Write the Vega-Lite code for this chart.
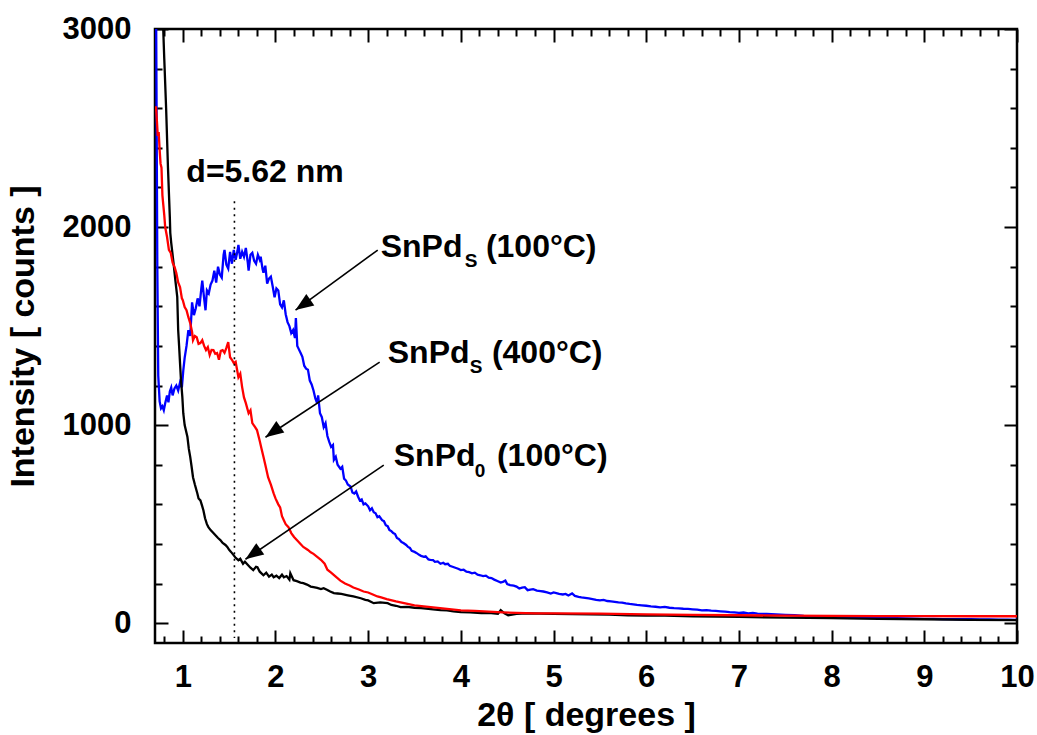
{
"$schema": "https://vega.github.io/schema/vega-lite/v6.json",
"autosize": "none",
"width": 862,
"height": 614,
"padding": {"left": 155, "top": 29, "right": 20, "bottom": 92},
"background": "white",
"config": {
  "view": {"stroke": "black", "strokeWidth": 2.5},
  "font": "Liberation Sans",
  "axis": {"labelFont": "Liberation Sans", "labelFontWeight": "bold", "labelFontSize": 31, "labelColor": "black", "titleFont": "Liberation Sans", "titleFontWeight": "bold", "titleFontSize": 34, "titleColor": "black", "domain": false, "grid": false, "tickColor": "black", "tickWidth": 2}
},
"datasets": {
  "curves": [
{"s":"b","x":0.71,"y":3300},{"s":"b","x":0.725,"y":1800},{"s":"b","x":0.735,"y":1250},{"s":"b","x":0.75,"y":1120},{"s":"b","x":0.765,"y":1085},{"s":"b","x":0.78,"y":1095},{"s":"b","x":0.795,"y":1075},{"s":"b","x":0.81,"y":1110},{"s":"b","x":0.83,"y":1150},{"s":"b","x":0.845,"y":1115},{"s":"b","x":0.86,"y":1170},{"s":"b","x":0.875,"y":1190},{"s":"b","x":0.89,"y":1150},{"s":"b","x":0.91,"y":1185},{"s":"b","x":0.93,"y":1200},{"s":"b","x":0.95,"y":1175},{"s":"b","x":0.97,"y":1215},{"s":"b","x":0.99,"y":1190},{"s":"b","x":1.005,"y":1275},{"s":"b","x":1.02,"y":1340},{"s":"b","x":1.04,"y":1400},{"s":"b","x":1.06,"y":1480},{"s":"b","x":1.08,"y":1450},{"s":"b","x":1.1,"y":1620},{"s":"b","x":1.12,"y":1555},{"s":"b","x":1.14,"y":1590},{"s":"b","x":1.16,"y":1640},{"s":"b","x":1.18,"y":1600},{"s":"b","x":1.2,"y":1690},{"s":"b","x":1.21,"y":1730},{"s":"b","x":1.23,"y":1640},{"s":"b","x":1.245,"y":1580},{"s":"b","x":1.26,"y":1680},{"s":"b","x":1.28,"y":1665},{"s":"b","x":1.3,"y":1710},{"s":"b","x":1.32,"y":1730},{"s":"b","x":1.34,"y":1780},{"s":"b","x":1.36,"y":1720},{"s":"b","x":1.38,"y":1800},{"s":"b","x":1.4,"y":1760},{"s":"b","x":1.42,"y":1745},{"s":"b","x":1.44,"y":1860},{"s":"b","x":1.45,"y":1885},{"s":"b","x":1.47,"y":1810},{"s":"b","x":1.49,"y":1790},{"s":"b","x":1.51,"y":1875},{"s":"b","x":1.53,"y":1815},{"s":"b","x":1.55,"y":1885},{"s":"b","x":1.57,"y":1835},{"s":"b","x":1.59,"y":1880},{"s":"b","x":1.6,"y":1910},{"s":"b","x":1.62,"y":1840},{"s":"b","x":1.64,"y":1875},{"s":"b","x":1.66,"y":1850},{"s":"b","x":1.68,"y":1895},{"s":"b","x":1.7,"y":1825},{"s":"b","x":1.71,"y":1780},{"s":"b","x":1.73,"y":1860},{"s":"b","x":1.75,"y":1870},{"s":"b","x":1.77,"y":1830},{"s":"b","x":1.79,"y":1815},{"s":"b","x":1.81,"y":1860},{"s":"b","x":1.83,"y":1835},{"s":"b","x":1.84,"y":1850},{"s":"b","x":1.86,"y":1790},{"s":"b","x":1.87,"y":1770},{"s":"b","x":1.89,"y":1805},{"s":"b","x":1.91,"y":1715},{"s":"b","x":1.93,"y":1740},{"s":"b","x":1.95,"y":1750},{"s":"b","x":1.97,"y":1700},{"s":"b","x":1.99,"y":1645},{"s":"b","x":2.01,"y":1690},{"s":"b","x":2.03,"y":1680},{"s":"b","x":2.05,"y":1610},{"s":"b","x":2.07,"y":1595},{"s":"b","x":2.09,"y":1630},{"s":"b","x":2.11,"y":1560},{"s":"b","x":2.13,"y":1520},{"s":"b","x":2.15,"y":1500},{"s":"b","x":2.17,"y":1465},{"s":"b","x":2.19,"y":1480},{"s":"b","x":2.21,"y":1440},{"s":"b","x":2.22,"y":1540},{"s":"b","x":2.235,"y":1400},{"s":"b","x":2.25,"y":1385},{"s":"b","x":2.27,"y":1365},{"s":"b","x":2.29,"y":1345},{"s":"b","x":2.31,"y":1300},{"s":"b","x":2.33,"y":1285},{"s":"b","x":2.35,"y":1280},{"s":"b","x":2.37,"y":1225},{"s":"b","x":2.39,"y":1205},{"s":"b","x":2.41,"y":1175},{"s":"b","x":2.43,"y":1135},{"s":"b","x":2.45,"y":1110},{"s":"b","x":2.46,"y":1150},{"s":"b","x":2.48,"y":1060},{"s":"b","x":2.5,"y":1040},{"s":"b","x":2.52,"y":990},{"s":"b","x":2.54,"y":1010},{"s":"b","x":2.56,"y":945},{"s":"b","x":2.58,"y":915},{"s":"b","x":2.6,"y":890},{"s":"b","x":2.62,"y":900},{"s":"b","x":2.63,"y":825},{"s":"b","x":2.65,"y":840},{"s":"b","x":2.67,"y":800},{"s":"b","x":2.7,"y":780},{"s":"b","x":2.72,"y":790},{"s":"b","x":2.74,"y":730},{"s":"b","x":2.76,"y":720},{"s":"b","x":2.78,"y":700},{"s":"b","x":2.81,"y":690},{"s":"b","x":2.83,"y":660},{"s":"b","x":2.85,"y":655},{"s":"b","x":2.87,"y":665},{"s":"b","x":2.89,"y":640},{"s":"b","x":2.91,"y":620},{"s":"b","x":2.93,"y":625},{"s":"b","x":2.95,"y":600},{"s":"b","x":2.97,"y":605},{"s":"b","x":3.0,"y":590},{"s":"b","x":3.02,"y":570},{"s":"b","x":3.04,"y":580},{"s":"b","x":3.06,"y":560},{"s":"b","x":3.08,"y":555},{"s":"b","x":3.1,"y":535},{"s":"b","x":3.12,"y":540},{"s":"b","x":3.15,"y":520},{"s":"b","x":3.17,"y":515},{"s":"b","x":3.19,"y":495},{"s":"b","x":3.21,"y":490},{"s":"b","x":3.23,"y":470},{"s":"b","x":3.25,"y":465},{"s":"b","x":3.27,"y":455},{"s":"b","x":3.29,"y":450},{"s":"b","x":3.31,"y":430},{"s":"b","x":3.33,"y":425},{"s":"b","x":3.36,"y":410},{"s":"b","x":3.38,"y":405},{"s":"b","x":3.41,"y":395},{"s":"b","x":3.43,"y":385},{"s":"b","x":3.45,"y":380},{"s":"b","x":3.47,"y":365},{"s":"b","x":3.5,"y":360},{"s":"b","x":3.52,"y":355},{"s":"b","x":3.55,"y":345},{"s":"b","x":3.57,"y":340},{"s":"b","x":3.6,"y":335},{"s":"b","x":3.62,"y":338},{"s":"b","x":3.65,"y":322},{"s":"b","x":3.67,"y":320},{"s":"b","x":3.7,"y":318},{"s":"b","x":3.72,"y":310},{"s":"b","x":3.75,"y":312},{"s":"b","x":3.78,"y":300},{"s":"b","x":3.81,"y":305},{"s":"b","x":3.83,"y":298},{"s":"b","x":3.86,"y":300},{"s":"b","x":3.88,"y":290},{"s":"b","x":3.91,"y":285},{"s":"b","x":3.94,"y":280},{"s":"b","x":3.97,"y":275},{"s":"b","x":4.0,"y":268},{"s":"b","x":4.03,"y":270},{"s":"b","x":4.06,"y":260},{"s":"b","x":4.09,"y":258},{"s":"b","x":4.12,"y":252},{"s":"b","x":4.15,"y":255},{"s":"b","x":4.18,"y":245},{"s":"b","x":4.21,"y":242},{"s":"b","x":4.24,"y":238},{"s":"b","x":4.27,"y":240},{"s":"b","x":4.3,"y":230},{"s":"b","x":4.33,"y":228},{"s":"b","x":4.36,"y":220},{"s":"b","x":4.4,"y":212},{"s":"b","x":4.43,"y":205},{"s":"b","x":4.46,"y":210},{"s":"b","x":4.48,"y":215},{"s":"b","x":4.5,"y":198},{"s":"b","x":4.53,"y":192},{"s":"b","x":4.57,"y":190},{"s":"b","x":4.6,"y":185},{"s":"b","x":4.63,"y":175},{"s":"b","x":4.66,"y":180},{"s":"b","x":4.69,"y":182},{"s":"b","x":4.72,"y":167},{"s":"b","x":4.75,"y":170},{"s":"b","x":4.78,"y":172},{"s":"b","x":4.82,"y":165},{"s":"b","x":4.86,"y":162},{"s":"b","x":4.89,"y":160},{"s":"b","x":4.93,"y":156},{"s":"b","x":4.97,"y":150},{"s":"b","x":5.0,"y":155},{"s":"b","x":5.03,"y":152},{"s":"b","x":5.06,"y":148},{"s":"b","x":5.1,"y":145},{"s":"b","x":5.13,"y":148},{"s":"b","x":5.16,"y":140},{"s":"b","x":5.2,"y":150},{"s":"b","x":5.23,"y":138},{"s":"b","x":5.27,"y":133},{"s":"b","x":5.3,"y":130},{"s":"b","x":5.34,"y":128},{"s":"b","x":5.38,"y":125},{"s":"b","x":5.42,"y":122},{"s":"b","x":5.46,"y":118},{"s":"b","x":5.5,"y":115},{"s":"b","x":5.54,"y":118},{"s":"b","x":5.58,"y":112},{"s":"b","x":5.62,"y":110},{"s":"b","x":5.66,"y":108},{"s":"b","x":5.7,"y":105},{"s":"b","x":5.74,"y":104},{"s":"b","x":5.78,"y":100},{"s":"b","x":5.82,"y":97},{"s":"b","x":5.86,"y":95},{"s":"b","x":5.9,"y":92},{"s":"b","x":5.95,"y":90},{"s":"b","x":6.0,"y":88},{"s":"b","x":6.05,"y":85},{"s":"b","x":6.1,"y":83},{"s":"b","x":6.15,"y":80},{"s":"b","x":6.2,"y":82},{"s":"b","x":6.25,"y":78},{"s":"b","x":6.3,"y":76},{"s":"b","x":6.35,"y":75},{"s":"b","x":6.4,"y":73},{"s":"b","x":6.45,"y":72},{"s":"b","x":6.5,"y":70},{"s":"b","x":6.55,"y":68},{"s":"b","x":6.6,"y":65},{"s":"b","x":6.65,"y":66},{"s":"b","x":6.7,"y":63},{"s":"b","x":6.75,"y":62},{"s":"b","x":6.8,"y":60},{"s":"b","x":6.85,"y":58},{"s":"b","x":6.9,"y":56},{"s":"b","x":6.95,"y":55},{"s":"b","x":7.0,"y":52},{"s":"b","x":7.05,"y":54},{"s":"b","x":7.1,"y":50},{"s":"b","x":7.15,"y":52},{"s":"b","x":7.2,"y":48},{"s":"b","x":7.3,"y":47},{"s":"b","x":7.4,"y":45},{"s":"b","x":7.5,"y":42},{"s":"b","x":7.6,"y":40},{"s":"b","x":7.7,"y":37},{"s":"b","x":7.8,"y":36},{"s":"b","x":7.9,"y":33},{"s":"b","x":8.0,"y":31},{"s":"b","x":8.1,"y":30},{"s":"b","x":8.2,"y":29},{"s":"b","x":8.3,"y":28},{"s":"b","x":8.4,"y":27},{"s":"b","x":8.5,"y":27},{"s":"b","x":8.6,"y":25},{"s":"b","x":8.7,"y":25},{"s":"b","x":8.8,"y":24},{"s":"b","x":8.9,"y":23},{"s":"b","x":9.0,"y":22},{"s":"b","x":9.1,"y":22},{"s":"b","x":9.2,"y":21},{"s":"b","x":9.3,"y":21},{"s":"b","x":9.4,"y":20},{"s":"b","x":9.5,"y":20},{"s":"b","x":9.6,"y":19},{"s":"b","x":9.7,"y":19},{"s":"b","x":9.8,"y":18},{"s":"b","x":9.9,"y":18},{"s":"b","x":10.0,"y":17},
{"s":"k","x":0.785,"y":3050},{"s":"k","x":0.8,"y":2850},{"s":"k","x":0.82,"y":2600},{"s":"k","x":0.84,"y":2300},{"s":"k","x":0.86,"y":2050},{"s":"k","x":0.865,"y":1970},{"s":"k","x":0.875,"y":1920},{"s":"k","x":0.9,"y":1818},{"s":"k","x":0.92,"y":1730},{"s":"k","x":0.94,"y":1648},{"s":"k","x":0.95,"y":1480},{"s":"k","x":0.96,"y":1400},{"s":"k","x":0.97,"y":1313},{"s":"k","x":0.98,"y":1230},{"s":"k","x":0.995,"y":1141},{"s":"k","x":1.005,"y":1060},{"s":"k","x":1.02,"y":1000},{"s":"k","x":1.05,"y":940},{"s":"k","x":1.065,"y":880},{"s":"k","x":1.08,"y":840},{"s":"k","x":1.095,"y":790},{"s":"k","x":1.11,"y":737},{"s":"k","x":1.13,"y":700},{"s":"k","x":1.157,"y":655},{"s":"k","x":1.17,"y":630},{"s":"k","x":1.19,"y":620},{"s":"k","x":1.21,"y":590},{"s":"k","x":1.222,"y":570},{"s":"k","x":1.24,"y":530},{"s":"k","x":1.26,"y":500},{"s":"k","x":1.276,"y":485},{"s":"k","x":1.3,"y":470},{"s":"k","x":1.33,"y":455},{"s":"k","x":1.36,"y":440},{"s":"k","x":1.38,"y":430},{"s":"k","x":1.405,"y":420},{"s":"k","x":1.43,"y":405},{"s":"k","x":1.46,"y":395},{"s":"k","x":1.48,"y":385},{"s":"k","x":1.5,"y":370},{"s":"k","x":1.52,"y":360},{"s":"k","x":1.546,"y":345},{"s":"k","x":1.57,"y":330},{"s":"k","x":1.6,"y":318},{"s":"k","x":1.62,"y":325},{"s":"k","x":1.65,"y":300},{"s":"k","x":1.67,"y":310},{"s":"k","x":1.7,"y":295},{"s":"k","x":1.73,"y":280},{"s":"k","x":1.76,"y":268},{"s":"k","x":1.79,"y":285},{"s":"k","x":1.805,"y":283},{"s":"k","x":1.83,"y":260},{"s":"k","x":1.87,"y":242},{"s":"k","x":1.9,"y":255},{"s":"k","x":1.93,"y":235},{"s":"k","x":1.96,"y":245},{"s":"k","x":1.98,"y":232},{"s":"k","x":2.01,"y":240},{"s":"k","x":2.04,"y":228},{"s":"k","x":2.07,"y":245},{"s":"k","x":2.09,"y":232},{"s":"k","x":2.12,"y":238},{"s":"k","x":2.15,"y":220},{"s":"k","x":2.16,"y":252},{"s":"k","x":2.195,"y":217},{"s":"k","x":2.23,"y":212},{"s":"k","x":2.27,"y":205},{"s":"k","x":2.3,"y":202},{"s":"k","x":2.34,"y":195},{"s":"k","x":2.38,"y":185},{"s":"k","x":2.41,"y":182},{"s":"k","x":2.45,"y":178},{"s":"k","x":2.49,"y":172},{"s":"k","x":2.52,"y":177},{"s":"k","x":2.56,"y":168},{"s":"k","x":2.59,"y":160},{"s":"k","x":2.63,"y":152},{"s":"k","x":2.67,"y":150},{"s":"k","x":2.71,"y":148},{"s":"k","x":2.78,"y":141},{"s":"k","x":2.84,"y":135},{"s":"k","x":2.92,"y":126},{"s":"k","x":2.97,"y":118},{"s":"k","x":3.0,"y":115},{"s":"k","x":3.06,"y":101},{"s":"k","x":3.13,"y":105},{"s":"k","x":3.21,"y":101},{"s":"k","x":3.25,"y":92},{"s":"k","x":3.3,"y":88},{"s":"k","x":3.35,"y":81},{"s":"k","x":3.42,"y":82},{"s":"k","x":3.5,"y":78},{"s":"k","x":3.57,"y":76},{"s":"k","x":3.65,"y":73},{"s":"k","x":3.7,"y":70},{"s":"k","x":3.78,"y":66},{"s":"k","x":3.85,"y":65},{"s":"k","x":3.92,"y":60},{"s":"k","x":4.0,"y":56},{"s":"k","x":4.1,"y":55},{"s":"k","x":4.22,"y":51},{"s":"k","x":4.3,"y":52},{"s":"k","x":4.4,"y":48},{"s":"k","x":4.43,"y":66},{"s":"k","x":4.47,"y":50},{"s":"k","x":4.51,"y":40},{"s":"k","x":4.6,"y":47},{"s":"k","x":4.72,"y":50},{"s":"k","x":4.85,"y":48},{"s":"k","x":5.0,"y":47},{"s":"k","x":5.2,"y":46},{"s":"k","x":5.4,"y":45},{"s":"k","x":5.6,"y":44},{"s":"k","x":5.8,"y":40},{"s":"k","x":6.0,"y":38},{"s":"k","x":6.2,"y":38},{"s":"k","x":6.5,"y":35},{"s":"k","x":7.0,"y":32},{"s":"k","x":7.5,"y":28},{"s":"k","x":8.0,"y":26},{"s":"k","x":8.5,"y":22},{"s":"k","x":9.0,"y":20},{"s":"k","x":9.5,"y":17},{"s":"k","x":10.0,"y":15},
{"s":"r","x":0.71,"y":2610},{"s":"r","x":0.72,"y":2540},{"s":"r","x":0.73,"y":2460},{"s":"r","x":0.74,"y":2480},{"s":"r","x":0.75,"y":2390},{"s":"r","x":0.76,"y":2320},{"s":"r","x":0.77,"y":2300},{"s":"r","x":0.78,"y":2160},{"s":"r","x":0.79,"y":2110},{"s":"r","x":0.8,"y":2060},{"s":"r","x":0.81,"y":2000},{"s":"r","x":0.83,"y":1950},{"s":"r","x":0.85,"y":1885},{"s":"r","x":0.87,"y":1870},{"s":"r","x":0.89,"y":1820},{"s":"r","x":0.91,"y":1800},{"s":"r","x":0.93,"y":1768},{"s":"r","x":0.95,"y":1720},{"s":"r","x":0.97,"y":1697},{"s":"r","x":0.99,"y":1640},{"s":"r","x":1.0,"y":1631},{"s":"r","x":1.02,"y":1596},{"s":"r","x":1.04,"y":1580},{"s":"r","x":1.06,"y":1545},{"s":"r","x":1.08,"y":1515},{"s":"r","x":1.1,"y":1470},{"s":"r","x":1.11,"y":1429},{"s":"r","x":1.13,"y":1450},{"s":"r","x":1.15,"y":1444},{"s":"r","x":1.17,"y":1410},{"s":"r","x":1.19,"y":1414},{"s":"r","x":1.21,"y":1429},{"s":"r","x":1.23,"y":1400},{"s":"r","x":1.25,"y":1379},{"s":"r","x":1.27,"y":1394},{"s":"r","x":1.29,"y":1354},{"s":"r","x":1.31,"y":1380},{"s":"r","x":1.33,"y":1379},{"s":"r","x":1.35,"y":1360},{"s":"r","x":1.37,"y":1364},{"s":"r","x":1.39,"y":1330},{"s":"r","x":1.41,"y":1375},{"s":"r","x":1.43,"y":1379},{"s":"r","x":1.45,"y":1365},{"s":"r","x":1.47,"y":1390},{"s":"r","x":1.49,"y":1419},{"s":"r","x":1.51,"y":1343},{"s":"r","x":1.53,"y":1330},{"s":"r","x":1.55,"y":1313},{"s":"r","x":1.57,"y":1320},{"s":"r","x":1.6,"y":1242},{"s":"r","x":1.62,"y":1260},{"s":"r","x":1.64,"y":1192},{"s":"r","x":1.66,"y":1140},{"s":"r","x":1.68,"y":1111},{"s":"r","x":1.71,"y":1060},{"s":"r","x":1.73,"y":1075},{"s":"r","x":1.75,"y":1010},{"s":"r","x":1.78,"y":990},{"s":"r","x":1.8,"y":975},{"s":"r","x":1.83,"y":920},{"s":"r","x":1.85,"y":880},{"s":"r","x":1.87,"y":840},{"s":"r","x":1.89,"y":800},{"s":"r","x":1.92,"y":737},{"s":"r","x":1.95,"y":700},{"s":"r","x":1.98,"y":655},{"s":"r","x":2.0,"y":630},{"s":"r","x":2.03,"y":600},{"s":"r","x":2.05,"y":585},{"s":"r","x":2.07,"y":540},{"s":"r","x":2.09,"y":520},{"s":"r","x":2.11,"y":500},{"s":"r","x":2.14,"y":485},{"s":"r","x":2.17,"y":455},{"s":"r","x":2.2,"y":435},{"s":"r","x":2.23,"y":420},{"s":"r","x":2.27,"y":400},{"s":"r","x":2.3,"y":385},{"s":"r","x":2.35,"y":370},{"s":"r","x":2.38,"y":358},{"s":"r","x":2.41,"y":350},{"s":"r","x":2.45,"y":335},{"s":"r","x":2.49,"y":320},{"s":"r","x":2.53,"y":300},{"s":"r","x":2.56,"y":270},{"s":"r","x":2.6,"y":255},{"s":"r","x":2.65,"y":235},{"s":"r","x":2.7,"y":215},{"s":"r","x":2.75,"y":200},{"s":"r","x":2.8,"y":190},{"s":"r","x":2.84,"y":180},{"s":"r","x":2.9,"y":170},{"s":"r","x":2.95,"y":160},{"s":"r","x":3.0,"y":155},{"s":"r","x":3.05,"y":145},{"s":"r","x":3.1,"y":135},{"s":"r","x":3.14,"y":130},{"s":"r","x":3.2,"y":122},{"s":"r","x":3.3,"y":110},{"s":"r","x":3.35,"y":105},{"s":"r","x":3.45,"y":95},{"s":"r","x":3.5,"y":90},{"s":"r","x":3.6,"y":85},{"s":"r","x":3.7,"y":80},{"s":"r","x":3.8,"y":75},{"s":"r","x":3.9,"y":70},{"s":"r","x":4.0,"y":65},{"s":"r","x":4.15,"y":62},{"s":"r","x":4.3,"y":58},{"s":"r","x":4.45,"y":55},{"s":"r","x":4.6,"y":52},{"s":"r","x":4.8,"y":50},{"s":"r","x":5.0,"y":50},{"s":"r","x":5.5,"y":48},{"s":"r","x":6.0,"y":45},{"s":"r","x":6.5,"y":42},{"s":"r","x":7.0,"y":40},{"s":"r","x":7.5,"y":38},{"s":"r","x":8.0,"y":37},{"s":"r","x":8.5,"y":36},{"s":"r","x":9.0,"y":36},{"s":"r","x":9.5,"y":35},{"s":"r","x":10.0,"y":35}
  ],
  "vline": [{"x": 1.557, "y": 2130, "y2": -75}],
  "arrows": [
    {"x": 3.103, "y": 1884, "x2": 2.216, "y2": 1581},
    {"x": 3.124, "y": 1318, "x2": 1.892, "y2": 939},
    {"x": 3.168, "y": 798, "x2": 1.676, "y2": 323}
  ],
  "labels": [
    {"x": 1.038, "y": 2227, "t": "d=5.62 nm", "p": "m"},
    {"x": 3.135, "y": 1848, "t": "SnPd", "p": "m"},
    {"x": 4.043, "y": 1798, "t": "S", "p": "s"},
    {"x": 4.27, "y": 1848, "t": "(100°C)", "p": "m"},
    {"x": 3.211, "y": 1313, "t": "SnPd", "p": "m"},
    {"x": 4.097, "y": 1263, "t": "S", "p": "s"},
    {"x": 4.335, "y": 1313, "t": "(400°C)", "p": "m"},
    {"x": 3.276, "y": 793, "t": "SnPd", "p": "m"},
    {"x": 4.151, "y": 737, "t": "0", "p": "s"},
    {"x": 4.389, "y": 793, "t": "(100°C)", "p": "m"}
  ]
},
"layer": [
  {
    "data": {"name": "curves"},
    "mark": {"type": "line", "strokeWidth": 2.3, "clip": true},
    "encoding": {
      "x": {"field": "x", "type": "quantitative", "scale": {"domain": [0.7, 10], "nice": false, "zero": false},
        "axis": {"orient": "bottom", "title": "2θ [ degrees ]", "values": [0.8,1,1.2,1.4,1.6,1.8,2,2.2,2.4,2.6,2.8,3,3.2,3.4,3.6,3.8,4,4.2,4.4,4.6,4.8,5,5.2,5.4,5.6,5.8,6,6.2,6.4,6.6,6.8,7,7.2,7.4,7.6,7.8,8,8.2,8.4,8.6,8.8,9,9.2,9.4,9.6,9.8,10],
          "tickSize": {"condition": {"test": "abs(datum.value - round(datum.value)) < 0.01", "value": -13}, "value": -7},
          "labelExpr": "abs(datum.value - round(datum.value)) < 0.01 ? format(datum.value, 'd') : ''",
          "labelPadding": 32, "titlePadding": 0, "labelFlush": false, "labelOverlap": false}},
      "y": {"field": "y", "type": "quantitative", "scale": {"domain": [-100, 3000], "nice": false, "zero": false},
        "axis": {"orient": "left", "title": "Intensity [ counts ]", "values": [0,200,400,600,800,1000,1200,1400,1600,1800,2000,2200,2400,2600,2800,3000],
          "tickSize": {"condition": {"test": "datum.value % 1000 === 0", "value": -13}, "value": -7},
          "labelExpr": "datum.value % 1000 === 0 ? format(datum.value, 'd') : ''",
          "labelPadding": 37, "titlePadding": 22, "labelFlush": false, "labelOverlap": false}},
      "color": {"field": "s", "type": "nominal", "scale": {"domain": ["b", "k", "r"], "range": ["#0000ff", "#000000", "#ff0000"]}, "legend": null}
    }
  },
  {
    "data": {"name": "vline"},
    "mark": {"type": "rule", "stroke": "black", "strokeWidth": 1.6, "strokeDash": [2, 4.5]},
    "encoding": {
      "x": {"field": "x", "type": "quantitative", "scale": {"domain": [0.7, 10], "nice": false, "zero": false},
        "axis": {"orient": "top", "title": null, "labels": false, "values": [0.8,1,1.2,1.4,1.6,1.8,2,2.2,2.4,2.6,2.8,3,3.2,3.4,3.6,3.8,4,4.2,4.4,4.6,4.8,5,5.2,5.4,5.6,5.8,6,6.2,6.4,6.6,6.8,7,7.2,7.4,7.6,7.8,8,8.2,8.4,8.6,8.8,9,9.2,9.4,9.6,9.8,10],
          "tickSize": {"condition": {"test": "abs(datum.value - round(datum.value)) < 0.01", "value": -13}, "value": -7}}},
      "y": {"field": "y", "type": "quantitative", "scale": {"domain": [-100, 3000], "nice": false, "zero": false},
        "axis": {"orient": "right", "title": null, "labels": false, "values": [0,200,400,600,800,1000,1200,1400,1600,1800,2000,2200,2400,2600,2800,3000],
          "tickSize": {"condition": {"test": "datum.value % 1000 === 0", "value": -13}, "value": -7}}},
      "y2": {"field": "y2"}
    }
  },
  {
    "data": {"name": "arrows"},
    "mark": {"type": "rule", "stroke": "black", "strokeWidth": 1.6},
    "encoding": {
      "x": {"field": "x", "type": "quantitative", "axis": null},
      "y": {"field": "y", "type": "quantitative", "axis": null},
      "x2": {"field": "x2"},
      "y2": {"field": "y2"}
    }
  },
  {
    "data": {"name": "arrows"},
    "mark": {"type": "point", "shape": "M0,0 L-0.85,2.2 L0.85,2.2 Z", "filled": true, "color": "black", "opacity": 1, "size": 270, "angle": 235},
    "encoding": {
      "x": {"field": "x2", "type": "quantitative", "axis": null},
      "y": {"field": "y2", "type": "quantitative", "axis": null}
    }
  },
  {
    "data": {"name": "labels"},
    "transform": [{"filter": "datum.p === 'm'"}],
    "mark": {"type": "text", "align": "left", "baseline": "alphabetic", "font": "Liberation Sans", "fontWeight": "bold", "fontSize": 32, "color": "black"},
    "encoding": {
      "x": {"field": "x", "type": "quantitative", "axis": null},
      "y": {"field": "y", "type": "quantitative", "axis": null},
      "text": {"field": "t"}
    }
  },
  {
    "data": {"name": "labels"},
    "transform": [{"filter": "datum.p === 's'"}],
    "mark": {"type": "text", "align": "left", "baseline": "alphabetic", "font": "Liberation Sans", "fontWeight": "bold", "fontSize": 19, "color": "black"},
    "encoding": {
      "x": {"field": "x", "type": "quantitative", "axis": null},
      "y": {"field": "y", "type": "quantitative", "axis": null},
      "text": {"field": "t"}
    }
  }
],
"resolve": {"axis": {"x": "independent", "y": "independent"}}
}
